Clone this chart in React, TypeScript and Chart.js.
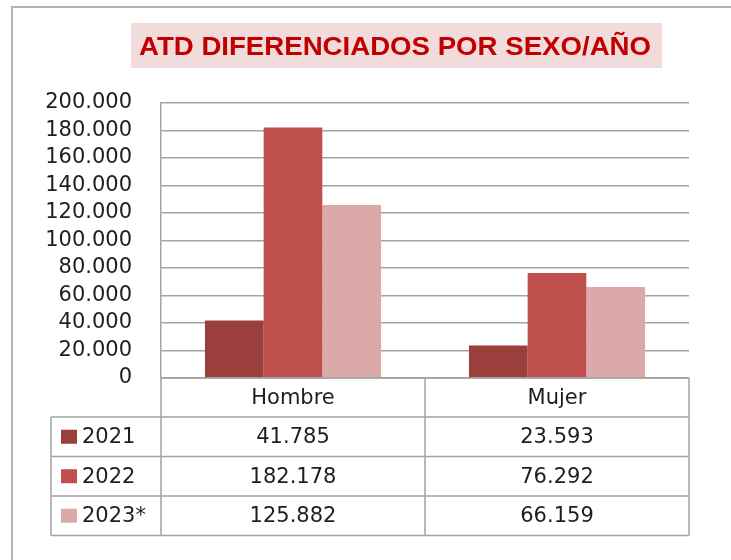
import React, { useEffect, useRef } from 'react';
import { Chart, registerables } from 'chart.js';

Chart.register(...registerables);

const TITLE = 'ATD DIFERENCIADOS POR SEXO/AÑO';
const categories = ['Hombre', 'Mujer'];
const seriesLabels = ['2021', '2022', '2023*'];
const values2021 = [41785, 23593];
const values2022 = [182178, 76292];
const values2023 = [125882, 66159];
const seriesValues = [values2021, values2022, values2023];
const seriesColors = ['#9b3f3d', '#c0504d', '#dba9a8'];
const yMin = 0;
const yMax = 200000;
const yStep = 20000;

const FONT = '"DejaVu Sans", sans-serif';
const LINE = '#a3a3a3';
const TEXT = '#1e1e1e';

const fmt = (v: number) => String(Math.round(v)).replace(/\B(?=(\d{3})+(?!\d))/g, '.');

const decorPlugin = {
  id: 'decor',
  beforeDraw(chart: any) {
    const ctx = chart.ctx as CanvasRenderingContext2D;
    ctx.save();
    // outer frame
    ctx.strokeStyle = '#b3b3b3';
    ctx.lineWidth = 2;
    ctx.beginPath();
    ctx.moveTo(12, 570);
    ctx.lineTo(12, 7);
    ctx.lineTo(745, 7);
    ctx.stroke();
    // title box
    ctx.fillStyle = '#f2dcdb';
    ctx.fillRect(131, 23, 531, 45);
    ctx.font = 'bold 26px "Liberation Sans", Arial, sans-serif';
    const w = ctx.measureText(TITLE).width;
    ctx.translate(139, 55);
    ctx.scale(512 / w, 1);
    ctx.fillStyle = '#c00000';
    ctx.textAlign = 'left';
    ctx.textBaseline = 'alphabetic';
    ctx.fillText(TITLE, 0, 0);
    ctx.restore();
  },
  afterDraw(chart: any) {
    const ctx = chart.ctx as CanvasRenderingContext2D;
    const { left, right, bottom } = chart.chartArea;
    const xs = chart.scales.x;
    const n = categories.length;
    const colW = (right - left) / n;
    const headerH = 39;
    const rowH = 39.5;
    const tableLeft = 51;
    const rowsTop = bottom + headerH;
    const rows = seriesLabels.length;
    const tableBottom = rowsTop + rowH * rows;
    ctx.save();
    ctx.strokeStyle = LINE;
    ctx.lineWidth = 1.5;
    ctx.beginPath();
    ctx.moveTo(left, bottom);
    ctx.lineTo(right, bottom);
    for (let i = 0; i <= n; i++) {
      const x = left + i * colW;
      ctx.moveTo(x, bottom);
      ctx.lineTo(x, tableBottom);
    }
    ctx.moveTo(tableLeft, rowsTop);
    ctx.lineTo(tableLeft, tableBottom);
    for (let r = 0; r <= rows; r++) {
      const y = rowsTop + r * rowH;
      ctx.moveTo(tableLeft, y);
      ctx.lineTo(right, y);
    }
    ctx.stroke();

    ctx.font = '21px ' + FONT;
    ctx.textBaseline = 'middle';
    for (let r = 0; r < rows; r++) {
      const cy = rowsTop + r * rowH + rowH / 2;
      const ds = chart.data.datasets[r];
      ctx.fillStyle = ds.backgroundColor as string;
      ctx.fillRect(tableLeft + 10, cy - 7, 16, 14);
      ctx.fillStyle = TEXT;
      ctx.textAlign = 'left';
      ctx.fillText(seriesLabels[r], tableLeft + 31, cy + 1);
      ctx.textAlign = 'center';
      for (let i = 0; i < n; i++) {
        ctx.fillText(fmt(ds.data[i] as number), xs.getPixelForValue(i), cy + 1);
      }
    }
    ctx.restore();
  },
};

export default function App() {
  const ref = useRef<HTMLCanvasElement | null>(null);
  useEffect(() => {
    if (!ref.current) return;
    const chart = new Chart(ref.current, {
      type: 'bar',
      data: {
        labels: categories,
        datasets: seriesLabels.map((label, i) => ({
          label,
          data: seriesValues[i],
          backgroundColor: seriesColors[i],
          borderWidth: 0,
          categoryPercentage: 0.667,
          barPercentage: 1,
        })),
      },
      options: {
        animation: false,
        responsive: true,
        maintainAspectRatio: false,
        layout: { padding: { left: 0, right: 42, top: 103, bottom: 24 } },
        plugins: {
          legend: { display: false },
          title: { display: false },
          tooltip: { enabled: false },
        },
        scales: {
          x: {
            grid: { display: false, drawTicks: false },
            border: { display: false },
            ticks: { color: TEXT, font: { family: FONT, size: 21 }, padding: 8 },
            afterFit(scale: any) {
              scale.height = 158;
            },
          },
          y: {
            min: yMin,
            max: yMax,
            grid: { color: LINE, lineWidth: 1.5, drawTicks: false },
            border: { display: true, color: LINE, width: 1.5 },
            ticks: {
              stepSize: yStep,
              autoSkip: false,
              color: TEXT,
              font: { family: FONT, size: 21 },
              padding: 29,
              callback: (v: any) => fmt(Number(v)),
            },
            afterFit(scale: any) {
              scale.width = 161;
            },
          },
        },
      },
      plugins: [decorPlugin],
    });
    return () => chart.destroy();
  }, []);
  return (
    <div style={{ position: 'fixed', left: 0, top: 0, width: 731, height: 560, background: '#fff' }}>
      <canvas ref={ref} />
    </div>
  );
}
